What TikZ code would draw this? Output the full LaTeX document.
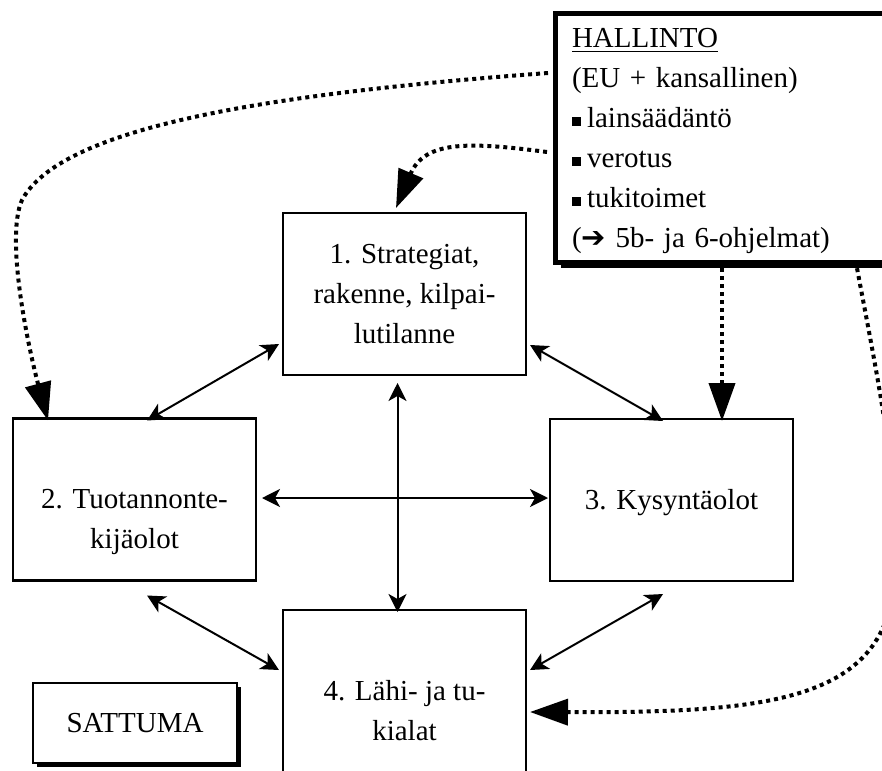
\documentclass[tikz,border=0pt]{standalone}
\usepackage{fontspec}
\setmainfont{Liberation Serif}
\newfontfamily\dejavu{DejaVu Sans}
\usetikzlibrary{arrows.meta}
\usetikzlibrary{shadows}
\newcommand{\factortext}[1]{\parbox[c][81pt][t]{121.5pt}{\centering\rule{0pt}{25pt}#1}}
\newcommand{\blt}{\rule[1pt]{4.5pt}{4.5pt}\hspace{3pt}}

\begin{document}
\begin{tikzpicture}[x=0.5pt,y=-0.5pt,
  factor/.style={draw,line width=1.2pt,inner sep=0pt,outer sep=0pt,font=\fontsize{14.5}{20}\selectfont},
  hallbox/.style={draw,fill=white,line width=2.5pt,anchor=north west,align=left,text width=158pt,
    inner xsep=8.5pt,inner ysep=4pt,outer sep=0pt,minimum height=124pt,font=\fontsize{14.5}{20}\selectfont,
    drop shadow={shadow xshift=2.75pt,shadow yshift=-2.75pt,fill=black,opacity=1}},
  chancebox/.style={draw,fill=white,line width=1.2pt,minimum width=102pt,minimum height=40pt,outer sep=0pt,
    font=\fontsize{14.5}{20}\selectfont,
    drop shadow={shadow xshift=2pt,shadow yshift=-2pt,fill=black,opacity=1}},
  link/.style={{Stealth[length=9pt,width=9pt,inset=2.5pt]}-{Stealth[length=9pt,width=9pt,inset=2.5pt]},line width=1pt},
  govarrow/.style={-{Triangle[length=19pt,width=13pt]},line width=2pt,dash pattern=on 2pt off 2pt}]
\useasboundingbox (0,0) rectangle (882,770);
\clip (0,0) rectangle (882,770);
% the four factors
\node[factor] (b1) at (404.5,294) {\factortext{1. Strategiat,\\rakenne, kilpai-\\lutilanne}};
\node[factor] (b2) at (134.5,499.5) {\factortext{\\2. Tuotannonte-\\kijäolot}};
\node[factor] (b3) at (671.5,500) {\factortext{\\3. Kysyntäolot}};
\node[factor] (b4) at (404.5,691) {\factortext{\\4. Lähi- ja tu-\\kialat}};
\node[chancebox] (sattuma) at (135,723) {SATTUMA};
\node[hallbox] (hallinto) at (555,14) {\rule{0pt}{13pt}\underline{HALLINTO}\\
  (EU + kansallinen)\\
  \blt lainsäädäntö\\
  \blt verotus\\
  \blt tukitoimet\\
  ({\dejavu ➔} 5b- ja 6-ohjelmat)};
% interactions
\draw[link] ([shift={(12.5,2)}]b2.north) -- ([shift={(-4,50)}]b1.west);
\draw[link] ([shift={(4,51)}]b1.east) -- ([shift={(-8.5,2)}]b3.north);
\draw[link] ([shift={(6,-1.5)}]b2.east) -- ([shift={(-2,-2)}]b3.west);
\draw[link] ([shift={(-7,8)}]b1.south) -- ([shift={(-7,2)}]b4.north);
\draw[link] ([shift={(12.5,15)}]b2.south) -- ([shift={(-4,-21)}]b4.west);
\draw[link] ([shift={(4,-21)}]b4.east) -- ([shift={(-8.5,13)}]b3.south);
% influence of government
\draw[govarrow] ([shift={(-7,59)}]hallinto.north west) .. controls (250,95) and (60,130) .. (22,200)
  .. controls (4,240) and (31,358) .. ([shift={(-86.5,2)}]b2.north);
\draw[govarrow] ([shift={(-8,138)}]hallinto.north west) .. controls (470,142) and (425,140) .. ([shift={(-8.5,-5)}]b1.north);
\draw[govarrow] ([shift={(167,6)}]hallinto.south west) -- ([shift={(50.5,2)}]b3.north);
\draw[govarrow] ([shift={(302,6)}]hallinto.south west) .. controls (878,380) and (897,470) .. (895,560)
  .. controls (897,700) and (780,713) .. ([shift={(4,21)}]b4.east);
\end{tikzpicture}
\end{document}
